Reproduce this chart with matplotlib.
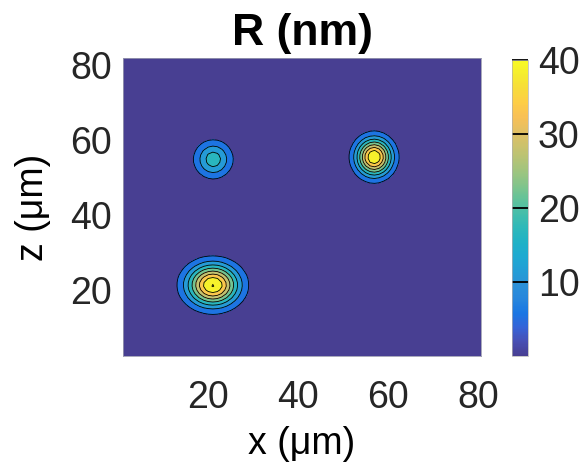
import numpy as np
import matplotlib
matplotlib.use("Agg")
import matplotlib.pyplot as plt
from matplotlib.colors import LinearSegmentedColormap, Normalize
import matplotlib.cm as cm

plt.rcParams['font.family'] = ['Liberation Sans', 'DejaVu Sans']

# blobs: centre (um), peak R (nm), widths (um)
blob_x = [21.0, 56.9, 21.1]
blob_z = [21.3, 55.4, 54.8]
blob_peak = [40.4, 40.2, 18.0]
blob_sx = [3.9, 2.7, 2.75]
blob_sz = [3.8, 3.4, 3.25]

levels = [0, 5, 10, 15, 20, 25, 30, 35, 40, 45]
cbar_ticks = [10, 20, 30, 40]
axis_ticks = [20, 40, 60, 80]

# parula (sampled)
parula = [
    [0.2081, 0.1663, 0.5292], [0.2081, 0.2386, 0.6771], [0.1253, 0.3242, 0.8303],
    [0.0060, 0.4086, 0.8828], [0.0629, 0.4737, 0.8554], [0.0793, 0.5200, 0.8312],
    [0.0487, 0.5772, 0.8228], [0.0239, 0.6287, 0.8038], [0.0267, 0.6642, 0.7607],
    [0.0843, 0.6928, 0.7062], [0.1801, 0.7177, 0.6424], [0.3022, 0.7376, 0.5712],
    [0.4420, 0.7481, 0.5033], [0.5709, 0.7485, 0.4494], [0.6834, 0.7435, 0.4044],
    [0.7858, 0.7356, 0.3633], [0.8824, 0.7274, 0.3217], [0.9739, 0.7314, 0.2666],
    [0.9955, 0.7861, 0.1967], [0.9697, 0.8481, 0.1475], [0.9598, 0.9218, 0.0948],
    [0.9763, 0.9831, 0.0538]]
# a little washed out, like the scanned figure
parula = [[c * 0.9 + 0.1 * 0.97 for c in rgb] for rgb in parula]
cmap = LinearSegmentedColormap.from_list('parula', parula, N=256)

x = np.arange(0.0, 82.0, 1.0)
z = np.arange(1.0, 84.0, 1.0)
X, Z = np.meshgrid(x, z)
R = np.zeros_like(X)
for cx, cz, a, sx, sz in zip(blob_x, blob_z, blob_peak, blob_sx, blob_sz):
    R += a * np.exp(-((X - cx) ** 2 / (2 * sx ** 2) + (Z - cz) ** 2 / (2 * sz ** 2)))

fig = plt.figure(figsize=(5.82, 4.65), dpi=100)
ax = fig.add_axes([123/582, 109/465, 358/582, 298/465])

# band colours like matlab: lowest band = bottom of map, top band = yellow
ax.contourf(X, Z, R, levels=levels, cmap=cmap, norm=Normalize(2.5, 38.5))
ax.contour(X, Z, R, levels=levels[1:-1], colors='k', linewidths=0.6)

ax.set_xlim(1, 80.7)
ax.set_ylim(2.4, 81.8)
ax.set_xticks(axis_ticks)
ax.set_yticks(axis_ticks)
ax.tick_params(axis='x', length=0, pad=17, labelsize=27, labelcolor='#262626')
ax.tick_params(axis='y', length=0, pad=8, labelsize=27, labelcolor='#262626')
for s in ax.spines.values():
    s.set_linewidth(0.6)
    s.set_color('#9a9ab0')

ax.set_title('R (nm)', fontsize=32, fontweight='bold', pad=9)
ax.set_xlabel('x (μm)', fontsize=27)
ax.set_ylabel('z (μm)', fontsize=27)
ax.xaxis.set_label_coords(0.5, -0.235)
ax.yaxis.set_label_coords(-0.2, 0.5)

cax = fig.add_axes([512/582, 109/465, 16/582, 296/465])
sm = cm.ScalarMappable(norm=Normalize(0, 40), cmap=cmap)
cb = fig.colorbar(sm, cax=cax)
cb.set_ticks(cbar_ticks)
cb.ax.tick_params(direction='in', length=11.5, width=1.3, color='k', pad=7,
                  labelsize=27, labelcolor='#262626')
cb.outline.set_linewidth(0.5)
cb.outline.set_edgecolor('#b0b0b0')

fig.savefig('out.png', dpi=100)
